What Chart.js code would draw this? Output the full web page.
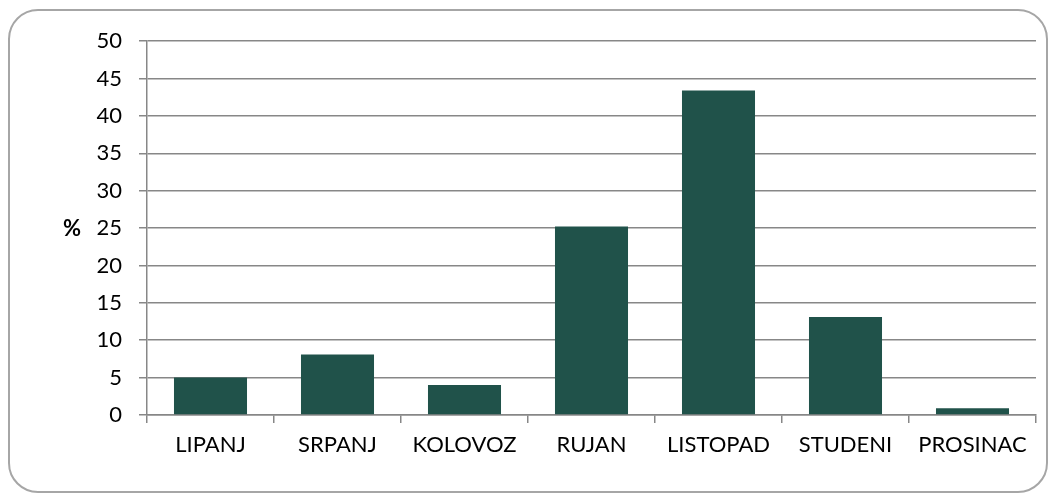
<!DOCTYPE html>
<html>
<head>
<meta charset="utf-8">
<script src="https://cdn.jsdelivr.net/npm/chart.js@4/dist/chart.umd.min.js"></script>
<style>
  body { margin: 0; background: #fff; }
  #box {
    position: absolute; left: 8px; top: 9px; width: 1036px; height: 480px;
    border: 2px solid #a6a6a6; border-radius: 30px; background: #fff;
  }
  canvas { display: block; }
</style>
</head>
<body>
<div id="box"><canvas id="chart" width="1036" height="480"></canvas></div>
<script>
const months = ['LIPANJ', 'SRPANJ', 'KOLOVOZ', 'RUJAN', 'LISTOPAD', 'STUDENI', 'PROSINAC'];
const percents = [5, 8.1, 4, 25.2, 43.4, 13.1, 0.9];
const yTicks = [0, 5, 10, 15, 20, 25, 30, 35, 40, 45, 50];

const gridGray = '#878787';

// bold "%" left of the 25 tick
const percentLabel = {
  id: 'percentLabel',
  afterDraw(chart) {
    const y = chart.scales.y;
    const ctx = chart.ctx;
    ctx.save();
    ctx.font = 'bold 22px Lato';
    ctx.fillStyle = '#000';
    ctx.textAlign = 'left';
    ctx.textBaseline = 'middle';
    ctx.fillText('%', 53, y.getPixelForValue(25) + 1);
    ctx.restore();
  }
};

new Chart(document.getElementById('chart'), {
  type: 'bar',
  data: {
    labels: months,
    datasets: [{
      data: percents,
      backgroundColor: '#20524a',
      barPercentage: 0.575,
      categoryPercentage: 1
    }]
  },
  options: {
    responsive: false,
    animation: false,
    layout: { padding: { left: 0, top: 26, right: 10, bottom: 0 } },
    plugins: { legend: { display: false }, tooltip: { enabled: false } },
    scales: {
      x: {
        grid: { drawOnChartArea: false, color: gridGray, lineWidth: 1.5, tickLength: 8 },
        border: { color: gridGray, width: 1.5 },
        ticks: { color: '#000', font: { family: 'Lato', size: 22 }, padding: 9, maxRotation: 0 },
        afterFit(scale) { scale.height = 76; }
      },
      y: {
        min: 0,
        max: 50,
        afterBuildTicks(scale) { scale.ticks = yTicks.map(v => ({ value: v })); },
        grid: { color: gridGray, lineWidth: 1.5, tickLength: 8 },
        border: { color: gridGray, width: 1.5 },
        ticks: { color: '#000', font: { family: 'Lato', size: 22 }, padding: 17 },
        afterFit(scale) { scale.width = 137; }
      }
    }
  },
  plugins: [percentLabel]
});
</script>
</body>
</html>
